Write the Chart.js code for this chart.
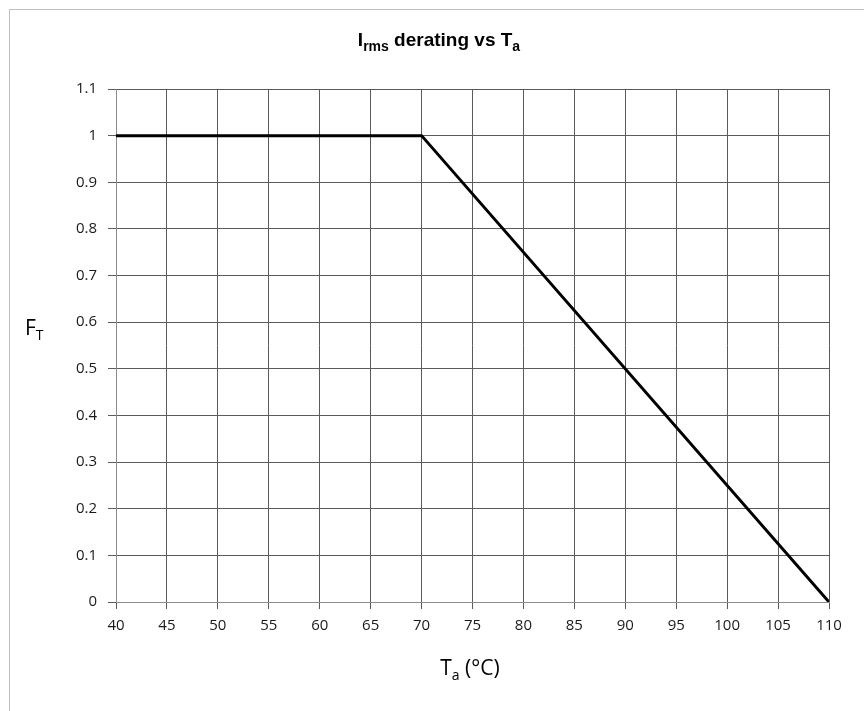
<!DOCTYPE html>
<html>
<head>
<meta charset="utf-8">
<script src="https://cdn.jsdelivr.net/npm/chart.js@4"></script>
<style>
  html, body { margin: 0; padding: 0; background: #fff; }
  #wrap { width: 864px; height: 711px; position: relative; }
</style>
</head>
<body>
<div id="wrap"><canvas id="derating"></canvas></div>
<script>
// data
var temps = [40, 70, 110];      // Ta (°C)
var factors = [1, 1, 0];        // FT
var xMin = 40, xMax = 110, xStep = 5;
var yMin = 0, yMax = 1.1, yStep = 0.1;

var points = temps.map(function (t, i) { return { x: t, y: factors[i] }; });

// text with subscripts, parts: [text, font, isSub]
function drawSub(ctx, parts, x, y, align) {
    var w = 0;
    parts.forEach(function (p) { ctx.font = p[1]; w += ctx.measureText(p[0]).width; });
    var cx = align === 'center' ? x - w / 2 : x;
    ctx.textAlign = 'left';
    ctx.textBaseline = 'alphabetic';
    parts.forEach(function (p) {
        ctx.font = p[1];
        ctx.fillText(p[0], cx, y + (p[2] ? 5 : 0));
        cx += ctx.measureText(p[0]).width;
    });
}

// frame, title and axis titles
var labelsPlugin = {
    id: 'labels',
    afterDraw: function (chart) {
        var ctx = chart.ctx;
        ctx.save();
        ctx.strokeStyle = '#c0c0c0';
        ctx.lineWidth = 1;
        ctx.strokeRect(9.5, 9.5, 900, 800);

        ctx.fillStyle = '#000';
        var b = 'bold 19px "Liberation Sans", Arial, sans-serif';
        var bs = 'bold 14px "Liberation Sans", Arial, sans-serif';
        drawSub(ctx, [['I', b, false], ['rms', bs, true], [' derating vs T', b, false], ['a', bs, true]], 439, 46, 'center');

        var n = '21px "Open Sans", sans-serif';
        var ns = '14px "Open Sans", sans-serif';
        drawSub(ctx, [['F', n, false], ['T', ns, true]], 25, 335, 'left');
        drawSub(ctx, [['T', n, false], ['a', ns, true], [' (°C)', n, false]], 470, 675, 'center');
        ctx.restore();
    }
};

var ctx = document.getElementById('derating').getContext('2d');
var chart = new Chart(ctx, {
    type: 'scatter',
    data: {
        datasets: [{
            data: points,
            showLine: true,
            borderColor: '#000',
            borderWidth: 3,
            pointRadius: 0,
            tension: 0
        }]
    },
    options: {
        responsive: true,
        maintainAspectRatio: false,
        animation: false,
        layout: { padding: { top: 89, right: 35, left: 0, bottom: 0 } },
        plugins: {
            legend: { display: false },
            tooltip: { enabled: false }
        },
        scales: {
            x: {
                type: 'linear',
                min: xMin, max: xMax,
                ticks: { stepSize: xStep, color: '#1a1a1a', padding: 8,
                         font: { family: '"Open Sans", sans-serif', size: 15 } },
                grid: { color: '#5a5a5a', lineWidth: 1, tickLength: 7 },
                border: { color: '#8c8c8c' },
                afterFit: function (s) { s.height = 109; }
            },
            y: {
                min: yMin, max: yMax,
                ticks: { stepSize: yStep, color: '#1a1a1a', padding: 11,
                         font: { family: '"Open Sans", sans-serif', size: 15 },
                         callback: function (v) { return +v.toFixed(1); } },
                grid: { color: '#5a5a5a', lineWidth: 1, tickLength: 8 },
                border: { color: '#8c8c8c' },
                afterFit: function (s) { s.width = 116; }
            }
        }
    },
    plugins: [labelsPlugin]
});
</script>
</body>
</html>
